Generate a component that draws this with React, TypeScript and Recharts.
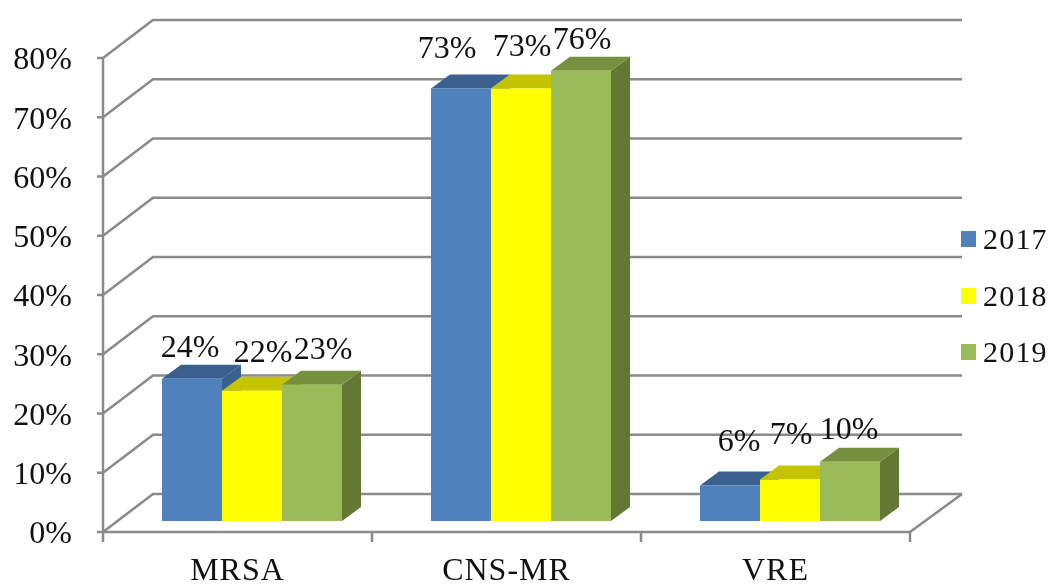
import React from 'react';
import { BarChart, Bar, XAxis, YAxis, CartesianGrid, Legend, LabelList } from 'recharts';

const categories = ['MRSA', 'CNS-MR', 'VRE'];
const values2017 = [24, 73, 6];
const values2018 = [22, 73, 7];
const values2019 = [23, 76, 10];
const yTicks = [0, 10, 20, 30, 40, 50, 60, 70, 80];

const data = categories.map((name, i) => ({
  name,
  '2017': values2017[i],
  '2018': values2018[i],
  '2019': values2019[i],
}));

const FONT = '"Liberation Serif", "Times New Roman", serif';
const AXIS_GRAY = '#8a8a8a';
const TEXT = '#111111';
const BAND = 269;

// 3D look: bars stand a little behind the front edge of the floor
const BAR_SHIFT_X = 14;
const BAR_LIFT = 11;
const DEPTH_X = 19;
const DEPTH_Y = 14;
const WALL_X = 50;
const WALL_Y = 38;
// recharts hands the tick renderer a y that is already past the default tick length
const TICK_OFFSET = 8;

const shades: Record<string, { top: string; side: string }> = {
  '#4F81BD': { top: '#3A6090', side: '#3A6090' },
  '#FFFF00': { top: '#C4C400', side: '#C4C400' },
  '#9BBB59': { top: '#76903F', side: '#637833' },
};

const Bar3D = (props: any) => {
  const { x, y, width, height, fill } = props;
  const left = x + BAR_SHIFT_X;
  const right = left + width;
  const top = y - BAR_LIFT;
  const bottom = y + height - BAR_LIFT;
  const { top: topFill, side } = shades[fill];
  return (
    <g>
      <polygon
        points={`${right},${top} ${right + DEPTH_X},${top - DEPTH_Y} ${right + DEPTH_X},${bottom - DEPTH_Y} ${right},${bottom}`}
        fill={side}
      />
      <polygon
        points={`${left},${top} ${left + DEPTH_X},${top - DEPTH_Y} ${right + DEPTH_X},${top - DEPTH_Y} ${right},${top}`}
        fill={topFill}
      />
      <rect x={left} y={top} width={width} height={height} fill={fill} />
    </g>
  );
};

// The labels were dragged around by hand in the original, so each gets its own nudge
const makeLabel = (nudge: [number, number][]) => (props: any) => {
  const { x, y, width, value, index } = props;
  const [dx, dy] = nudge[index];
  return (
    <text
      x={x + BAR_SHIFT_X + width / 2 + dx}
      y={y - BAR_LIFT + dy + 11}
      textAnchor="middle"
      fontFamily={FONT}
      fontSize={32}
      fill={TEXT}
    >
      {value}%
    </text>
  );
};

const nudge2017: [number, number][] = [[-2, -33], [-14, -41], [9, -45]];
const nudge2018: [number, number][] = [[11, -40], [1, -43], [1, -47]];
const nudge2019: [number, number][] = [[11, -37], [1, -33], [-1, -34]];

const WallLine = (props: any) => {
  const { x1, x2, y1 } = props;
  return (
    <polyline
      points={`${x1},${y1} ${x1 + WALL_X},${y1 - WALL_Y} ${x2 + WALL_X + 2},${y1 - WALL_Y}`}
      fill="none"
      stroke={AXIS_GRAY}
      strokeWidth={2.5}
    />
  );
};

const CategoryTick = (props: any) => {
  const { x, payload, index } = props;
  const y = props.y - TICK_OFFSET;
  const last = index === categories.length - 1;
  return (
    <g>
      <line x1={x - BAND / 2} y1={y} x2={x - BAND / 2} y2={y + 10} stroke={AXIS_GRAY} strokeWidth={2.5} />
      {last && (
        <>
          <line x1={x + BAND / 2} y1={y} x2={x + BAND / 2} y2={y + 10} stroke={AXIS_GRAY} strokeWidth={2.5} />
          <line x1={x + BAND / 2} y1={y} x2={x + BAND / 2 + WALL_X + 2} y2={y - WALL_Y} stroke={AXIS_GRAY} strokeWidth={2.5} />
        </>
      )}
      <text x={x} y={y + 48} textAnchor="middle" fontFamily={FONT} fontSize={32} letterSpacing={1} fill={TEXT}>
        {payload.value}
      </text>
    </g>
  );
};

const LegendBox = (props: any) => (
  <div style={{ fontFamily: FONT, fontSize: 30, color: TEXT, letterSpacing: 1.2 }}>
    {props.payload.map((item: any) => (
      <div key={item.value} style={{ display: 'flex', alignItems: 'center', height: 56.5 }}>
        <span style={{ width: 15, height: 16, background: item.color, marginRight: 7 }} />
        {item.value}
      </div>
    ))}
  </div>
);

const App = () => (
  <div style={{ position: 'absolute', left: 0, top: 0, width: 1051, height: 584, background: '#fff', filter: 'blur(0.6px)' }}>
    <BarChart
      width={1051}
      height={584}
      data={data}
      barGap={0}
      barSize={60}
      margin={{ top: 58, right: 141, bottom: 0, left: 0 }}
    >
      <CartesianGrid vertical={false} horizontal={(p: any) => <WallLine {...p} />} />
      <XAxis
        dataKey="name"
        height={52}
        interval={0}
        tickLine={false}
        axisLine={{ stroke: AXIS_GRAY, strokeWidth: 2.5 }}
        tick={(p: any) => <CategoryTick {...p} />}
      />
      <YAxis
        width={103}
        domain={[0, 80]}
        ticks={yTicks}
        interval={0}
        tickSize={6}
        tickMargin={25}
        tickFormatter={(v: number) => `${v}%`}
        axisLine={{ stroke: AXIS_GRAY, strokeWidth: 2.5 }}
        tickLine={{ stroke: AXIS_GRAY, strokeWidth: 2.5 }}
        tick={{ fontFamily: FONT, fontSize: 32, fill: TEXT }}
      />
      <Legend
        layout="vertical"
        align="center"
        verticalAlign="middle"
        wrapperStyle={{ left: 961, top: 211, width: 90 }}
        content={(p: any) => <LegendBox {...p} />}
      />
      <Bar dataKey="2017" fill="#4F81BD" isAnimationActive={false} shape={(p: any) => <Bar3D {...p} />}>
        <LabelList dataKey="2017" content={makeLabel(nudge2017)} />
      </Bar>
      <Bar dataKey="2018" fill="#FFFF00" isAnimationActive={false} shape={(p: any) => <Bar3D {...p} />}>
        <LabelList dataKey="2018" content={makeLabel(nudge2018)} />
      </Bar>
      <Bar dataKey="2019" fill="#9BBB59" isAnimationActive={false} shape={(p: any) => <Bar3D {...p} />}>
        <LabelList dataKey="2019" content={makeLabel(nudge2019)} />
      </Bar>
    </BarChart>
  </div>
);

export default App;
